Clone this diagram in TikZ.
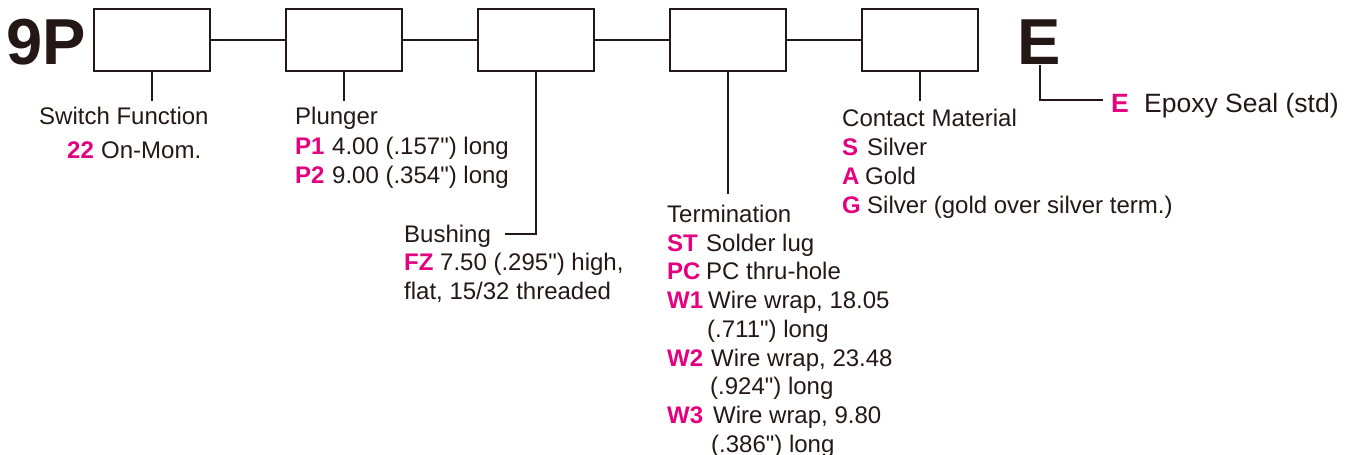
\documentclass[tikz,border=0pt]{standalone}
\usepackage{fontspec}
\setmainfont{Liberation Sans}[Ligatures=TeXOff]
\definecolor{ink}{HTML}{231815}
\definecolor{codepink}{HTML}{E4007F}
\tikzset{
  box/.style={draw=ink, line width=1.8pt, minimum width=116pt, minimum height=62pt, inner sep=0pt},
  wire/.style={draw=ink, line width=1.8pt},
  lbl/.style={anchor=base west, inner sep=0pt, text=ink, font=\fontsize{24}{28}\selectfont},
  code/.style={anchor=base west, inner sep=0pt, text=codepink, font=\fontsize{24}{28}\selectfont\bfseries},
  biglbl/.style={lbl, font=\fontsize{26.5}{30}\selectfont},
  bigcode/.style={code, font=\fontsize{26.5}{30}\selectfont\bfseries},
  big/.style={anchor=base west, inner sep=0pt, text=ink, font=\fontsize{65}{70}\selectfont\bfseries}
}
\begin{document}
\begin{tikzpicture}[x=1pt, y=-1pt]
\useasboundingbox (0,0) rectangle (1360,455);
% big prefix / suffix
\node[big] (nineP) at (6,64) {9P};
\node[big] (bigE) at (1017,64) {E};
% boxes
\node[box] (b1) at (152,40) {};
\node[box] (b2) at (344,40) {};
\node[box] (b3) at (536,40) {};
\node[box] (b4) at (728,40) {};
\node[box] (b5) at (920,40) {};
\draw[wire] (b1.east) -- (b2.west);
\draw[wire] (b2.east) -- (b3.west);
\draw[wire] (b3.east) -- (b4.west);
\draw[wire] (b4.east) -- (b5.west);
% drop lines
\coordinate (d1) at (152,101);
\coordinate (d2) at (344,101);
\coordinate (d3) at (505,234);
\coordinate (d4) at (728,194);
\coordinate (d5) at (920,101);
\coordinate (dE) at (1103,100);
\draw[wire] (b1.south) -- (d1);
\draw[wire] (b2.south) -- (d2);
\draw[wire] (b3.south) |- (d3);
\draw[wire] (b4.south) -- (d4);
\draw[wire] (b5.south) -- (d5);
\draw[wire] ([xshift=1pt,yshift=-1pt]bigE.south) |- (dE);
% Switch function
\node[lbl] (sfT) at (39,124) {Switch Function};
\node[code] (sfC1) at (67,158) {22};
\node[lbl] (sfD1) at (101,158) {On-Mom.};
% Plunger
\node[lbl] (plT) at (295,124) {Plunger};
\node[code] (plC1) at (295,154) {P1};
\node[lbl] (plD1) at (332,154) {4.00 (.157") long};
\node[code] (plC2) at (295,183) {P2};
\node[lbl] (plD2) at (332,183) {9.00 (.354") long};
% Bushing
\node[lbl] (buT) at (404,242) {Bushing};
\node[code] (buC1) at (404,270) {FZ};
\node[lbl] (buD1) at (440,270) {7.50 (.295") high,};
\node[lbl] (buD1b) at (404,299) {flat, 15/32 threaded};
% Termination
\node[lbl] (teT) at (667,222) {Termination};
\node[code] (teC1) at (667,251) {ST};
\node[lbl] (teD1) at (706,251) {Solder lug};
\node[code] (teC2) at (667,279) {PC};
\node[lbl] (teD2) at (706,279) {PC thru-hole};
\node[code] (teC3) at (667,308) {W1};
\node[lbl] (teD3) at (708,308) {Wire wrap, 18.05};
\node[lbl] (teD3b) at (707,337) {(.711") long};
\node[code] (teC4) at (667,366) {W2};
\node[lbl] (teD4) at (711,366) {Wire wrap, 23.48};
\node[lbl] (teD4b) at (710,394) {(.924") long};
\node[code] (teC5) at (667,423) {W3};
\node[lbl] (teD5) at (713,423) {Wire wrap, 9.80};
\node[lbl] (teD5b) at (711,452) {(.386") long};
% Contact material
\node[lbl] (cmT) at (842,126) {Contact Material};
\node[code] (cmC1) at (842,155) {S};
\node[lbl] (cmD1) at (867,155) {Silver};
\node[code] (cmC2) at (842,184) {A};
\node[lbl] (cmD2) at (865,184) {Gold};
\node[code] (cmC3) at (842,213) {G};
\node[lbl] (cmD3) at (867,213) {Silver (gold over silver term.)};
% Seal
\node[bigcode] (eC) at (1111,112) {E};
\node[biglbl] (eD) at (1144,112) {Epoxy Seal (std)};
\end{tikzpicture}
\end{document}
